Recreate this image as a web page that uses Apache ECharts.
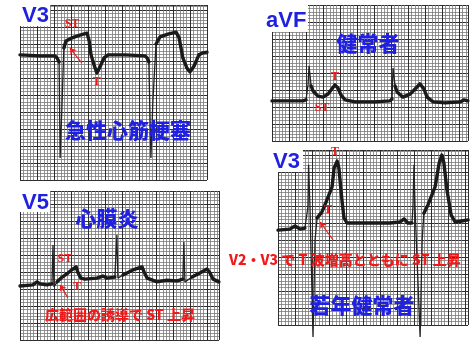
<!DOCTYPE html>
<html>
<head>
<meta charset="utf-8">
<script src="https://cdn.jsdelivr.net/npm/echarts@6/dist/echarts.min.js"></script>
<style>
html,body{margin:0;padding:0;background:#fff}
#main{width:474px;height:351px}
</style>
</head>
<body>
<div id="main"></div>
<script>
// ECG strips, all values in mm of paper (x = time, y = height above strip bottom)

// V3 急性心筋梗塞
const miTrace = [[0,36.8],[5.9,36.5],[10.3,36.5],[10.9,35.9],[11.5,34.7],[12.9,38.8],[13.5,40.9],[15.3,41.8],[17.6,42.6],[19.7,43.2],[20.3,41.2],[20.9,36.8],[21.8,33.8],[22.6,31.5],[23.5,33.2],[24.7,35.9],[25.9,36.8],[30.9,36.8],[36.8,36.5],[37.4,35.9],[37.9,34.7],[40.0,40.0],[41.2,42.1],[43.5,42.9],[45.9,43.5],[46.8,41.8],[47.9,35.9],[49.1,32.9],[50.0,31.8],[51.2,33.5],[52.6,36.8],[53.8,37.4],[55.0,37.6]];
const miSpikes = [[11.8,6.5],[12.4,23.5],[38.5,6.5],[39.1,23.5]];

// aVF 健常者
const avfTrace = [[0,11.8],[5.3,11.8],[9.1,11.8],[10.0,12.1],[11.5,16.2],[12.1,14.7],[13.5,13.2],[15.0,12.9],[16.5,13.8],[17.6,15.3],[18.5,16.5],[19.4,15.6],[20.3,13.5],[21.5,12.1],[24.4,11.5],[30.3,11.5],[34.7,11.8],[35.3,12.4],[36.2,16.2],[36.8,14.4],[38.5,12.9],[40.6,13.8],[42.1,15.3],[43.5,16.8],[44.7,15.3],[45.6,12.9],[47.4,11.5],[50.9,11.2],[55.3,11.5],[56.5,12.1],[57.6,11.8]];
const avfSpikes = [[10.6,16.5],[10.9,22.1],[35.6,21.5]];

// V5 心膜炎
const periTrace = [[0,15.9],[3.8,16.2],[5.0,17.1],[5.9,16.5],[7.9,16.2],[9.4,16.5],[10.9,17.1],[12.4,18.5],[14.1,19.7],[15.6,20.9],[16.5,21.5],[17.1,19.7],[17.9,18.2],[19.1,17.9],[22.6,18.2],[24.4,18.8],[25.6,18.2],[27.9,18.5],[30.3,19.1],[33.2,20.6],[35.9,21.5],[36.5,20.0],[37.4,18.2],[40.3,17.1],[43.2,17.6],[46.2,17.4],[47.9,17.9],[50.6,18.5],[52.9,19.7],[55.0,20.9],[55.9,19.7],[56.8,17.9],[58.5,17.1]];
const periSpikes = [[9.7,27.9],[10.0,15.6],[28.5,30.9],[28.8,18.2],[48.2,28.8],[48.5,17.1]];

// V3 若年健常者
const youngTrace = [[0,27.9],[3.5,28.2],[5.0,29.1],[6.5,28.2],[7.9,28.5],[11.5,31.5],[12.9,33.2],[14.4,36.8],[15.9,40.6],[16.5,46.2],[17.4,48.2],[17.9,46.2],[18.8,36.8],[19.4,31.5],[20.3,30.0],[23.2,30.0],[27.9,30.0],[32.9,30.0],[35.9,30.3],[37.1,31.2],[38.2,30.0],[39.4,30.0],[42.9,32.9],[44.1,35.3],[46.2,40.6],[47.4,47.6],[48.2,50.0],[48.8,47.6],[49.7,39.7],[50.9,32.4],[52.1,30.3],[54.1,30.6],[55.9,30.9]];
const youngSpikes = [[8.8,34.7],[9.0,47.1],[9.4,34.7],[10.3,-3.5],[10.9,25.0],[39.7,34.7],[40.0,47.1],[40.3,34.7],[41.8,-3.5],[42.4,25.0]];

// red annotations
const miNotes = [['ST',15.3,45.9],['T',22.6,28.8]];
const avfNotes = [['T',18.5,18.8],['ST',14.7,9.7]];
const periNotes = [['ST',13.2,23.8],['T',16.8,15.6]];
const youngNotes = [['T',16.8,50.9],['T',14.7,33.8]];
const miArrow = [[18.2,34.4],[14.7,38.8]];
const periArrow = [[14.1,12.4],[11.8,16.2]];
const youngArrow = [[16.2,25.0],[12.4,30.3]];

const leadNames = ['V3','aVF','V5','V3'];
const diagnoses = ['急性心筋梗塞','健常者','心膜炎','若年健常者'];
const findings = ['広範囲の誘導で ST 上昇','V2・V3 で T 波増高とともに ST 上昇'];

const MM = 3.4; // px per mm
const BLUE = '#2020e0', RED = '#f01a1a';
const JP = '"Noto Sans CJK JP", sans-serif';

const panels = [
  {left:20, top:5, width:187, height:175, trace:miTrace, spikes:miSpikes, notes:miNotes, arrow:miArrow,
   box:[18,3,32,23], lead:[22,5], title:[128,130]},
  {left:272, top:5, width:196, height:136, trace:avfTrace, spikes:avfSpikes, notes:avfNotes, arrow:null,
   box:[264,1,44,31], lead:[266,10], title:[368,43]},
  {left:20, top:191, width:199, height:149, trace:periTrace, spikes:periSpikes, notes:periNotes, arrow:periArrow,
   box:[18,189,32,23], lead:[22,192], title:[107,218]},
  {left:278, top:150, width:190, height:175, trace:youngTrace, spikes:youngSpikes, notes:youngNotes, arrow:youngArrow,
   box:[270,147,33,25], lead:[273,151], title:[362,305]}
];

const grids = [], xAxes = [], yAxes = [], series = [], graphics = [];

function paperAxis(i, max) {
  return {
    gridIndex: i, type: 'value', min: 0, max: max, interval: 5,
    axisLine: {show: false}, axisTick: {show: false}, axisLabel: {show: false},
    minorTick: {show: false, splitNumber: 5},
    splitLine: {show: true, lineStyle: {color: '#2e2e2e', width: 1}},
    minorSplitLine: {show: true, lineStyle: {color: '#7a7a7a', width: 0.8}}
  };
}

panels.forEach((p, i) => {
  grids.push({left: p.left, top: p.top, width: p.width, height: p.height});
  xAxes.push(paperAxis(i, p.width / MM));
  yAxes.push(paperAxis(i, p.height / MM));

  const all = p.trace.concat(p.spikes).sort((a, b) => a[0] - b[0]);
  const thick = all.map(pt => p.spikes.includes(pt) ? [pt[0], '-'] : pt);

  const thin = {
    type: 'line', xAxisIndex: i, yAxisIndex: i, data: all,
    showSymbol: false, clip: false, silent: true, z: 3,
    lineStyle: {color: '#222', width: 1.3},
    markPoint: {
      symbol: 'circle', symbolSize: 1, itemStyle: {color: 'rgba(0,0,0,0)'},
      label: {show: true, position: 'inside', formatter: '{b}', color: RED,
              fontFamily: '"Liberation Serif", serif', fontWeight: 'bold', fontSize: 12},
      data: p.notes.map(n => ({name: n[0], coord: [n[1], n[2]]}))
    }
  };
  if (p.arrow) {
    thin.markLine = {
      silent: true, symbol: ['none', 'arrow'], symbolSize: 6,
      label: {show: false},
      lineStyle: {color: RED, width: 1.2, type: 'solid'},
      data: [[{coord: p.arrow[0]}, {coord: p.arrow[1]}]]
    };
  }
  series.push(thin);
  series.push({
    type: 'line', xAxisIndex: i, yAxisIndex: i, data: thick,
    showSymbol: false, clip: false, silent: true, z: 4, connectNulls: false,
    lineStyle: {color: '#1a1a1a', width: 3.4, cap: 'round', join: 'round'}
  });

  graphics.push({type: 'rect', shape: {x: p.box[0], y: p.box[1], width: p.box[2], height: p.box[3]},
                 style: {fill: '#fff'}, z: 100});
  graphics.push({type: 'text', left: p.lead[0], top: p.lead[1], z: 101,
                 style: {text: leadNames[i], fill: BLUE, font: 'bold 22px "Liberation Sans", sans-serif'}});
  graphics.push({type: 'text', x: p.title[0], y: p.title[1], z: 101,
                 style: {text: diagnoses[i], fill: BLUE, font: '900 21px ' + JP, align: 'center', verticalAlign: 'middle'}});
});

graphics.push({type: 'text', x: 120, y: 315, z: 101,
  style: {text: findings[0], fill: RED, font: '900 14px ' + JP, align: 'center', verticalAlign: 'middle'}});
graphics.push({type: 'text', x: 229, y: 260, z: 101,
  style: {text: findings[1], fill: RED, font: '900 14px ' + JP, align: 'left', verticalAlign: 'middle'}});

const chart = echarts.init(document.getElementById('main'));
chart.setOption({
  animation: false,
  backgroundColor: '#fff',
  grid: grids,
  xAxis: xAxes,
  yAxis: yAxes,
  series: series,
  graphic: graphics
});
</script>
</body>
</html>
